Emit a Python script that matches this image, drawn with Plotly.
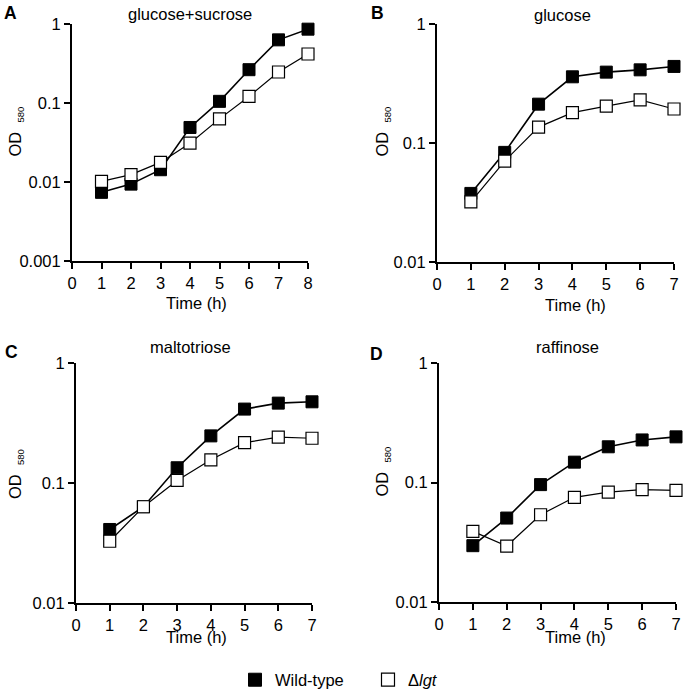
import plotly.graph_objects as go

W, H = 687, 692
FONT = "Liberation Sans, Arial, sans-serif"

# ---- data ----
time_a = [1, 2, 3, 4, 5, 6, 7, 8]
wt_a = [0.0074, 0.0094, 0.0143, 0.049, 0.105, 0.264, 0.63, 0.86]
mut_a = [0.0102, 0.0124, 0.0177, 0.031, 0.063, 0.121, 0.247, 0.417]

time_b = [1, 2, 3, 4, 5, 6, 7]
wt_b = [0.0377, 0.0834, 0.212, 0.36, 0.394, 0.412, 0.44]
mut_b = [0.032, 0.0705, 0.136, 0.180, 0.204, 0.23, 0.193]

time_c = [1, 2, 3, 4, 5, 6, 7]
wt_c = [0.041, 0.0634, 0.134, 0.247, 0.413, 0.463, 0.475]
mut_c = [0.0327, 0.0634, 0.105, 0.156, 0.217, 0.241, 0.236]

time_d = [1, 2, 3, 4, 5, 6, 7]
wt_d = [0.0296, 0.0504, 0.096, 0.148, 0.199, 0.227, 0.241]
mut_d = [0.039, 0.0294, 0.0537, 0.0752, 0.083, 0.0873, 0.086]

titles = ["glucose+sucrose", "glucose", "maltotriose", "raffinose"]
letters = ["A", "B", "C", "D"]
series_names = ["Wild-type", "Δ<i>lgt</i>"]
y_ticks_a = [0.001, 0.01, 0.1, 1]
y_ticks = [0.01, 0.1, 1]
y_ticktext_a = ["0.001", "0.01", "0.1", "1"]
y_ticktext = ["0.01", "0.1", "1"]
x_label = "Time (h)"
y_label = "OD&nbsp;&nbsp;<sub><span style='font-size:9.5px'>580</span></sub>"

# ---- layout geometry (pixels) ----
panels = [
    dict(x0=72, x1=308, y0=24, y1=261, t=time_a, wt=wt_a, mut=mut_a, xmax=8,
         yt=y_ticks_a, ytt=y_ticktext_a, yr=[-3, 0]),
    dict(x0=437, x1=674, y0=24, y1=262, t=time_b, wt=wt_b, mut=mut_b, xmax=7,
         yt=y_ticks, ytt=y_ticktext, yr=[-2, 0]),
    dict(x0=76, x1=312, y0=363, y1=603, t=time_c, wt=wt_c, mut=mut_c, xmax=7,
         yt=y_ticks, ytt=y_ticktext, yr=[-2, 0]),
    dict(x0=439, x1=676, y0=363, y1=602, t=time_d, wt=wt_d, mut=mut_d, xmax=7,
         yt=y_ticks, ytt=y_ticktext, yr=[-2, 0]),
]
title_pos = [(190, 14), (562, 15), (190, 347), (567, 347)]
letter_pos = [(10.5, 12.5), (377.5, 12.5), (11, 352), (376, 354)]
xlabel_pos = [(196, 303), (575, 305), (196, 637), (575, 637)]
ylabel_pos = [(15.5, 132), (382.5, 132), (16, 474), (382.5, 472)]

def px(x):
    return x / W

def py(y):
    return 1 - y / H

fig = go.Figure()
annotations = []
for i, p in enumerate(panels):
    sfx = "" if i == 0 else str(i + 1)
    xa, ya = "x" + sfx, "y" + sfx
    fig.add_trace(go.Scatter(
        x=p["t"], y=p["wt"], mode="lines+markers", xaxis=xa, yaxis=ya,
        line=dict(color="black", width=1.6),
        marker=dict(symbol="square", size=12, color="black",
                    line=dict(color="black", width=1)),
        showlegend=False, cliponaxis=False, name=series_names[0]))
    fig.add_trace(go.Scatter(
        x=p["t"], y=p["mut"], mode="lines+markers", xaxis=xa, yaxis=ya,
        line=dict(color="black", width=1.2),
        marker=dict(symbol="square", size=12, color="white",
                    line=dict(color="black", width=1.2)),
        showlegend=False, cliponaxis=False, name=series_names[1]))
    axis_common = dict(showline=True, linecolor="black", linewidth=2,
                       ticks="outside", ticklen=6, tickwidth=2, tickcolor="black",
                       showgrid=False, zeroline=False, automargin=False,
                       tickfont=dict(family=FONT, size=16.5, color="black"))
    fig.update_layout(**{
        "xaxis" + sfx: dict(domain=[px(p["x0"]), px(p["x1"])], anchor=ya,
                            range=[0, p["xmax"]], tickmode="linear", tick0=0, dtick=1,
                            **axis_common),
        "yaxis" + sfx: dict(domain=[py(p["y1"]), py(p["y0"])], anchor=xa,
                            type="log", range=p["yr"], tickvals=p["yt"],
                            ticktext=p["ytt"], **axis_common),
    })
    tx, ty = title_pos[i]
    annotations.append(dict(x=px(tx), y=py(ty), xref="paper", yref="paper",
                            text=titles[i], showarrow=False, xanchor="center",
                            yanchor="middle",
                            font=dict(family=FONT, size=16.5, color="black")))
    lx, ly = letter_pos[i]
    annotations.append(dict(x=px(lx), y=py(ly), xref="paper", yref="paper",
                            text="<b>" + letters[i] + "</b>", showarrow=False,
                            xanchor="center", yanchor="middle",
                            font=dict(family=FONT, size=17.5, color="black")))
    xx, xy = xlabel_pos[i]
    annotations.append(dict(x=px(xx), y=py(xy), xref="paper", yref="paper",
                            text=x_label, showarrow=False, xanchor="center",
                            yanchor="middle",
                            font=dict(family=FONT, size=16.5, color="black")))
    yx, yy = ylabel_pos[i]
    annotations.append(dict(x=px(yx), y=py(yy), xref="paper", yref="paper",
                            text=y_label, showarrow=False, textangle=-90,
                            xanchor="center", yanchor="middle",
                            font=dict(family=FONT, size=16.5, color="black")))

# legend-only entries
fig.add_trace(go.Scatter(x=[None], y=[None], mode="markers", name=series_names[0],
                         marker=dict(symbol="square", size=13, color="black",
                                     line=dict(color="black", width=1)),
                         legend="legend"))
fig.add_trace(go.Scatter(x=[None], y=[None], mode="markers", name=series_names[1],
                         marker=dict(symbol="square", size=13, color="white",
                                     line=dict(color="black", width=1.2)),
                         legend="legend2"))

legend_font = dict(family=FONT, size=16.5, color="black")
fig.update_layout(
    template="none",
    width=W, height=H, margin=dict(l=0, r=0, t=0, b=0, pad=0, autoexpand=False),
    paper_bgcolor="white", plot_bgcolor="white",
    annotations=annotations,
    legend=dict(x=px(257 - 22), y=py(680), xanchor="left", yanchor="middle",
                font=legend_font, bgcolor="rgba(0,0,0,0)", itemwidth=30),
    legend2=dict(x=px(390 - 22), y=py(680), xanchor="left", yanchor="middle",
                 font=legend_font, bgcolor="rgba(0,0,0,0)", itemwidth=30),
)

fig.write_html(
    "out.html",
    config={"displayModeBar": False},
    post_script="document.body.style.margin='0';"
                "document.documentElement.style.overflow='hidden';"
                "document.body.style.overflow='hidden';",
)
